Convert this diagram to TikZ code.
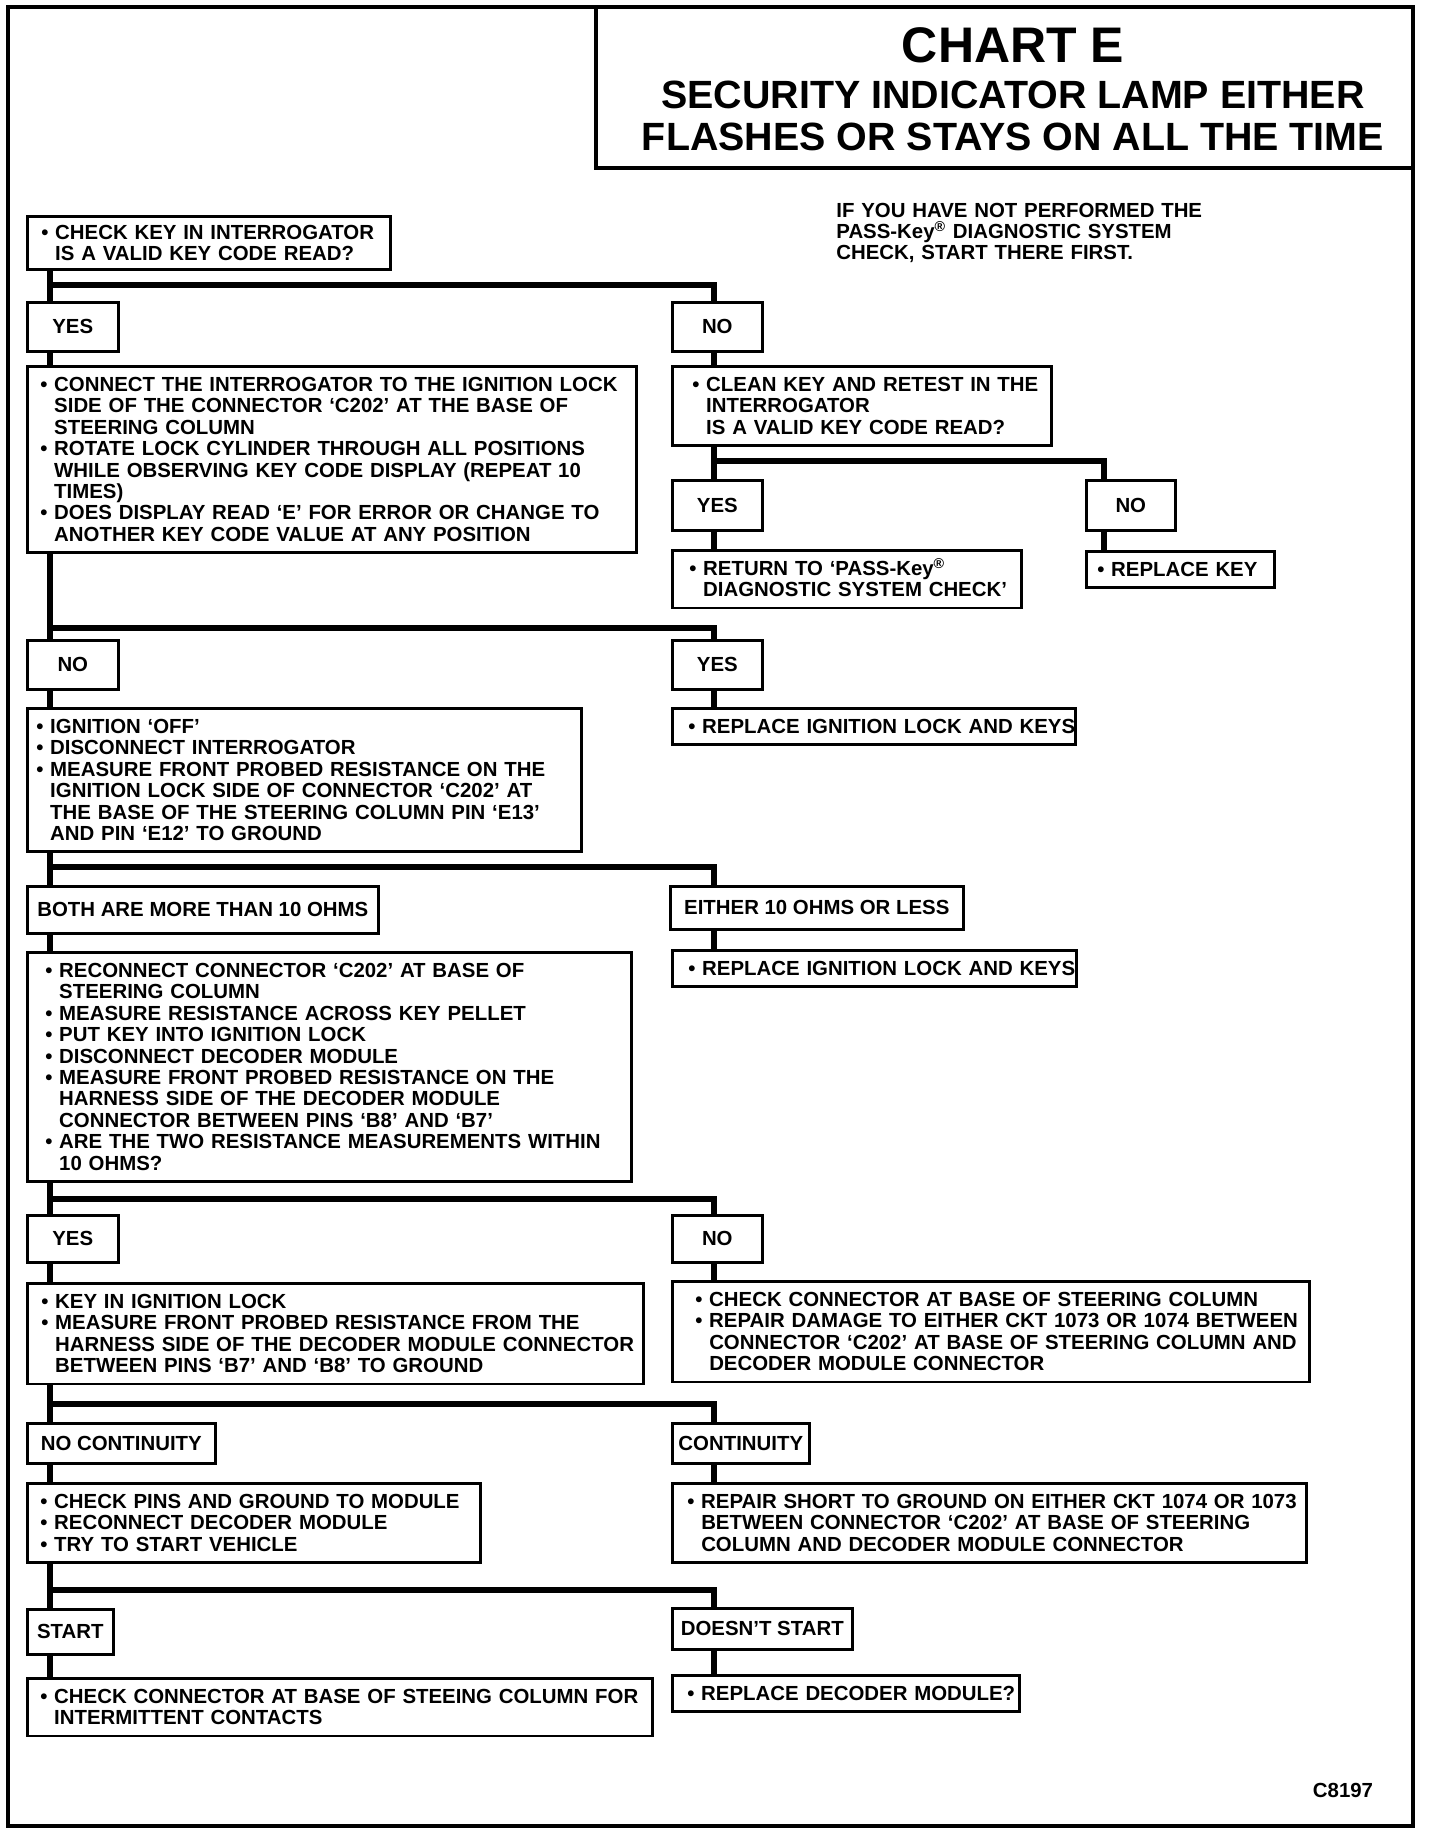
\documentclass[tikz,border=0pt]{standalone}
\usepackage{fontspec}
\newfontfamily\chartfont{Liberation Sans}
\newcommand{\body}{\chartfont\bfseries\fontsize{10.2pt}{10.7pt}\selectfont}
\newlength{\padlen}
\newcommand{\lpad}[1]{\setlength{\padlen}{#1}}
\newcommand{\bul}{\hspace*{\padlen}\textbullet\ }
\newcommand{\cnt}{\hspace*{\padlen}\hphantom{\textbullet\ }}

\begin{document}
\begin{tikzpicture}[
    x=0.5pt, y=-0.5pt,
    tag/.style={draw=black, line width=1.3pt, anchor=north west, inner sep=0pt, font=\body},
    act/.style={draw=black, line width=1.3pt, anchor=north west, inner xsep=0pt, inner ysep=5.5pt, align=left, font=\body},
    wire/.style={line width=3.4pt},
    frame/.style={line width=1.6pt}
]
\useasboundingbox (0,0) rectangle (1440,1836);
\draw[frame] (8,7) rectangle (1413,1826);
\draw[frame] (596,7) rectangle (1413,168);

% Title
\node (chart) [anchor=base, font=\chartfont\bfseries\fontsize{25pt}{25pt}\selectfont] at (1013,62) {CHART E};
\node (subj1) [anchor=base, font=\chartfont\bfseries\fontsize{19.7pt}{20pt}\selectfont] at (1013,108) {SECURITY INDICATOR LAMP EITHER};
\node (subj2) [anchor=base, font=\chartfont\bfseries\fontsize{19.7pt}{20pt}\selectfont] at (1013,150) {FLASHES OR STAYS ON ALL THE TIME};
\node (note) [anchor=base west, font=\body, text width=200pt, inner sep=0pt, align=left] at (836,217) {IF YOU HAVE NOT PERFORMED THE\\PASS-Key\textsuperscript{\smash{®}} DIAGNOSTIC SYSTEM\\CHECK, START THERE FIRST.};

% Columns and branch levels
\coordinate (tL) at (50,0);
\coordinate (tR) at (714,0);
\coordinate (tK) at (1104,0);
\coordinate (b1) at (0,285);
\coordinate (b2) at (0,461);
\coordinate (b3) at (0,628);
\coordinate (b4) at (0,867);
\coordinate (b5) at (0,1199);
\coordinate (b6) at (0,1404);
\coordinate (b7) at (0,1590);

% Nodes
\node (chk) [act, text width=181.5pt, inner ysep=4.3pt] at (26,215) {\lpad{7pt}\bul CHECK KEY IN INTERROGATOR\\ \cnt IS A VALID KEY CODE READ?};

\node (yes1) [tag, minimum width=45.5pt, minimum height=24.5pt] at (26,301) {YES};
\node (no1) [tag, minimum width=45pt, minimum height=24.5pt] at (671,301) {NO};

\node (connect) [act, text width=304.5pt] at (26,365) {\lpad{6.5pt}\bul CONNECT THE INTERROGATOR TO THE IGNITION LOCK\\ \cnt SIDE OF THE CONNECTOR ‘C202’ AT THE BASE OF\\ \cnt STEERING COLUMN\\ \bul ROTATE LOCK CYLINDER THROUGH ALL POSITIONS\\ \cnt WHILE OBSERVING KEY CODE DISPLAY (REPEAT 10\\ \cnt TIMES)\\ \bul DOES DISPLAY READ ‘E’ FOR ERROR OR CHANGE TO\\ \cnt ANOTHER KEY CODE VALUE AT ANY POSITION};
\node (clean) [act, text width=189.5pt] at (671,365) {\lpad{10pt}\bul CLEAN KEY AND RETEST IN THE\\ \cnt INTERROGATOR\\ \cnt IS A VALID KEY CODE READ?};

\node (yes2) [tag, minimum width=45pt, minimum height=25pt] at (671,479) {YES};
\node (no2) [tag, minimum width=44.5pt, minimum height=25pt] at (1085,479) {NO};
\node (ret) [act, text width=174.5pt] at (671,549) {\lpad{8.5pt}\bul RETURN TO ‘PASS-Key\textsuperscript{\smash{®}}\\ \cnt DIAGNOSTIC SYSTEM CHECK’};
\node (newkey) [act, text width=94pt] at (1085,550) {\lpad{5.5pt}\bul REPLACE KEY};

\node (no3) [tag, minimum width=45.5pt, minimum height=24.5pt] at (26,639) {NO};
\node (yes3) [tag, minimum width=45pt, minimum height=24.5pt] at (671,639) {YES};
\node (ign) [act, text width=277pt] at (26,707) {\lpad{4.5pt}\bul IGNITION ‘OFF’\\ \bul DISCONNECT INTERROGATOR\\ \bul MEASURE FRONT PROBED RESISTANCE ON THE\\ \cnt IGNITION LOCK SIDE OF CONNECTOR ‘C202’ AT\\ \cnt THE BASE OF THE STEERING COLUMN PIN ‘E13’\\ \cnt AND PIN ‘E12’ TO GROUND};
\node (lock1) [act, text width=201.5pt] at (671,707) {\lpad{8pt}\bul REPLACE IGNITION LOCK AND KEYS};

\node (both) [tag, minimum width=175.5pt, minimum height=23.5pt] at (26,885) {BOTH ARE MORE THAN 10 OHMS};
\node (either) [tag, minimum width=146.5pt, minimum height=21.5pt] at (669,885) {EITHER 10 OHMS OR LESS};
\node (recon) [act, text width=302pt] at (26,951) {\lpad{9pt}\bul RECONNECT CONNECTOR ‘C202’ AT BASE OF\\ \cnt STEERING COLUMN\\ \bul MEASURE RESISTANCE ACROSS KEY PELLET\\ \bul PUT KEY INTO IGNITION LOCK\\ \bul DISCONNECT DECODER MODULE\\ \bul MEASURE FRONT PROBED RESISTANCE ON THE\\ \cnt HARNESS SIDE OF THE DECODER MODULE\\ \cnt CONNECTOR BETWEEN PINS ‘B8’ AND ‘B7’\\ \bul ARE THE TWO RESISTANCE MEASUREMENTS WITHIN\\ \cnt 10 OHMS?};
\node (lock2) [act, text width=202pt] at (671,949) {\lpad{8pt}\bul REPLACE IGNITION LOCK AND KEYS};

\node (yes5) [tag, minimum width=45.5pt, minimum height=23.5pt] at (26,1214) {YES};
\node (no5) [tag, minimum width=45pt, minimum height=23.5pt] at (671,1214) {NO};
\node (keyin) [act, text width=308pt] at (26,1282) {\lpad{7pt}\bul KEY IN IGNITION LOCK\\ \bul MEASURE FRONT PROBED RESISTANCE FROM THE\\ \cnt HARNESS SIDE OF THE DECODER MODULE CONNECTOR\\ \cnt BETWEEN PINS ‘B7’ AND ‘B8’ TO GROUND};
\node (damage) [act, text width=318.5pt] at (671,1280) {\lpad{11.5pt}\bul CHECK CONNECTOR AT BASE OF STEERING COLUMN\\ \bul REPAIR DAMAGE TO EITHER CKT 1073 OR 1074 BETWEEN\\ \cnt CONNECTOR ‘C202’ AT BASE OF STEERING COLUMN AND\\ \cnt DECODER MODULE CONNECTOR};

\node (nocont) [tag, minimum width=94pt, minimum height=20pt] at (26,1422) {NO CONTINUITY};
\node (cont) [tag, minimum width=68.5pt, minimum height=20pt] at (671,1422) {CONTINUITY};
\node (pins) [act, text width=226.5pt] at (26,1482) {\lpad{6.5pt}\bul CHECK PINS AND GROUND TO MODULE\\ \bul RECONNECT DECODER MODULE\\ \bul TRY TO START VEHICLE};
\node (short) [act, text width=317pt] at (671,1482) {\lpad{7.5pt}\bul REPAIR SHORT TO GROUND ON EITHER CKT 1074 OR 1073\\ \cnt BETWEEN CONNECTOR ‘C202’ AT BASE OF STEERING\\ \cnt COLUMN AND DECODER MODULE CONNECTOR};

\node (start) [tag, minimum width=43pt, minimum height=22.5pt] at (26,1608) {START};
\node (nostart) [tag, minimum width=90pt, minimum height=20.5pt] at (671,1607) {DOESN’T START};
\node (intmt) [act, text width=312.5pt] at (26,1677) {\lpad{6.5pt}\bul CHECK CONNECTOR AT BASE OF STEEING COLUMN FOR\\ \cnt INTERMITTENT CONTACTS};
\node (decoder) [act, text width=173.5pt] at (671,1674) {\lpad{7.5pt}\bul REPLACE DECODER MODULE?};

\node (code) [anchor=base, font=\body] at (1343,1797) {C8197};

% Arrows
\draw[wire] (chk.south -| tL) -- (yes1.north -| tL);
\draw[wire] (b1 -| tL) -| (no1.north -| tR);
\draw[wire] (yes1.south -| tL) -- (connect.north -| tL);
\draw[wire] (no1.south -| tR) -- (clean.north -| tR);

\draw[wire] (clean.south -| tR) -- (yes2.north -| tR);
\draw[wire] (b2 -| tR) -| (no2.north -| tK);
\draw[wire] (yes2.south -| tR) -- (ret.north -| tR);
\draw[wire] (no2.south -| tK) -- (newkey.north -| tK);

\draw[wire] (connect.south -| tL) -- (no3.north -| tL);
\draw[wire] (b3 -| tL) -| (yes3.north -| tR);
\draw[wire] (no3.south -| tL) -- (ign.north -| tL);
\draw[wire] (yes3.south -| tR) -- (lock1.north -| tR);

\draw[wire] (ign.south -| tL) -- (both.north -| tL);
\draw[wire] (b4 -| tL) -| (either.north -| tR);
\draw[wire] (both.south -| tL) -- (recon.north -| tL);
\draw[wire] (either.south -| tR) -- (lock2.north -| tR);

\draw[wire] (recon.south -| tL) -- (yes5.north -| tL);
\draw[wire] (b5 -| tL) -| (no5.north -| tR);
\draw[wire] (yes5.south -| tL) -- (keyin.north -| tL);
\draw[wire] (no5.south -| tR) -- (damage.north -| tR);

\draw[wire] (keyin.south -| tL) -- (nocont.north -| tL);
\draw[wire] (b6 -| tL) -| (cont.north -| tR);
\draw[wire] (nocont.south -| tL) -- (pins.north -| tL);
\draw[wire] (cont.south -| tR) -- (short.north -| tR);

\draw[wire] (pins.south -| tL) -- (start.north -| tL);
\draw[wire] (b7 -| tL) -| (nostart.north -| tR);
\draw[wire] (start.south -| tL) -- (intmt.north -| tL);
\draw[wire] (nostart.south -| tR) -- (decoder.north -| tR);

\end{tikzpicture}
\end{document}
